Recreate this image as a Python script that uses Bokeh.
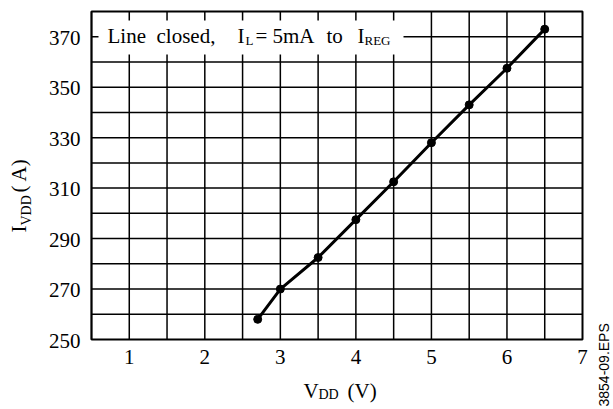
import math

from bokeh.core.properties import value
from bokeh.embed import file_html
from bokeh.models import BoxAnnotation, Label, Range1d
from bokeh.plotting import figure
from bokeh.resources import INLINE

# Supply current versus supply voltage
vdd = [2.7, 3.0, 3.5, 4.0, 4.5, 5.0, 5.5, 6.0, 6.5]
idd = [258, 270, 282.5, 297.5, 312.5, 328, 343, 357.5, 373]

x_ticks = [1, 2, 3, 4, 5, 6, 7]
y_ticks = [250, 270, 290, 310, 330, 350, 370]
x_grid = [0.5 * k for k in range(1, 14)]
y_grid = list(range(260, 380, 10))

# plotting area in data units
X0, X1 = 0.5, 7.0
Y0, Y1 = 250.0, 380.0

# canvas and where the plotting area sits on it (pixels)
W, H = 613, 409
LEFT, RIGHT, TOP, BOTTOM = 91, 582, 11, 339

# the svg text anchor sits a little above the glyph baseline; compensate
BASE_FIX = 7

SERIF = "Liberation Serif"
SANS = "Liberation Sans"


def dx(px):
    """Canvas pixel column -> data x."""
    return X0 + (px - LEFT) * (X1 - X0) / (RIGHT - LEFT)


def dy(py):
    """Canvas pixel row -> data y."""
    return Y1 - (py - TOP) * (Y1 - Y0) / (BOTTOM - TOP)


# The frame spans the whole canvas so that titles in the margins are not clipped;
# the data box, grid and tick labels are drawn through the same scales.
p = figure(
    width=W, height=H,
    x_range=Range1d(dx(0), dx(W)), y_range=Range1d(dy(H), dy(0)),
    x_axis_location=None, y_axis_location=None,
    output_backend="svg", toolbar_location=None,
    min_border=0, outline_line_color=None,
    background_fill_color="white", border_fill_color="white",
)
p.grid.visible = False

# grid
p.segment(x0=x_grid, x1=x_grid, y0=[Y0] * len(x_grid), y1=[Y1] * len(x_grid),
          line_color="black", line_width=1.5)
p.segment(x0=[X0] * len(y_grid), x1=[X1] * len(y_grid), y0=y_grid, y1=y_grid,
          line_color="black", line_width=1.5)

# axes box
p.quad(left=[X0], right=[X1], bottom=[Y0], top=[Y1],
       fill_color=None, line_color="black", line_width=2)

# tick labels
p.text(x=x_ticks, y=[Y0] * len(x_ticks), text=[str(t) for t in x_ticks],
       text_font=value(SERIF), text_font_size="21px", text_color="black",
       text_align="center", text_baseline="alphabetic", y_offset=24 - BASE_FIX)
p.text(x=[X0] * len(y_ticks), y=y_ticks, text=[str(t) for t in y_ticks],
       text_font=value(SERIF), text_font_size="21px", text_color="black",
       text_align="right", text_baseline="alphabetic", x_offset=-11, y_offset=8 - BASE_FIX)

# measured curve
p.line(vdd, idd, line_color="black", line_width=3)
p.scatter(vdd, idd, size=8, fill_color="black", line_color="black")

# condition box in the top-left corner
p.add_layout(BoxAnnotation(left=dx(98), right=dx(403), top=dy(20), bottom=dy(54),
                           fill_color="white", fill_alpha=1.0, line_color=None))


def txt(s, px, py, size, font=SERIF, rotated=False):
    """Text whose glyph baseline starts at canvas pixel (px, py)."""
    if rotated:
        px -= BASE_FIX
    else:
        py -= BASE_FIX
    p.add_layout(Label(x=dx(px), y=dy(py), text=s, text_font=font,
                       text_font_size=f"{size}px", text_color="black",
                       text_baseline="alphabetic", text_align="left",
                       angle=math.pi / 2 if rotated else 0.0))


# "Line closed, I_L = 5mA to I_REG"
txt("Line", 107, 42, 21)
txt("closed,", 156, 42, 21)
txt("I", 237, 42, 21)
txt("L", 245, 47, 13)
txt("=", 255, 42, 21)
txt("5mA", 272, 42, 21)
txt("to", 326, 42, 21)
txt("I", 357, 42, 21)
txt("REG", 364, 47, 13)

# x axis title: V_DD (V)
txt("V", 303, 397, 21)
txt("DD", 318, 401, 14)
txt("(V)", 347, 397, 21)

# y axis title: I_VDD ( A), rotated
txt("I", 25, 232, 21, rotated=True)
txt("VDD", 33, 225, 14, rotated=True)
txt("(  A)", 25, 192, 21, rotated=True)

# figure tag on the right edge
txt("3854-09.EPS", 610, 406, 14, font=SANS, rotated=True)

open("out.html", "w").write(file_html(p, INLINE))
